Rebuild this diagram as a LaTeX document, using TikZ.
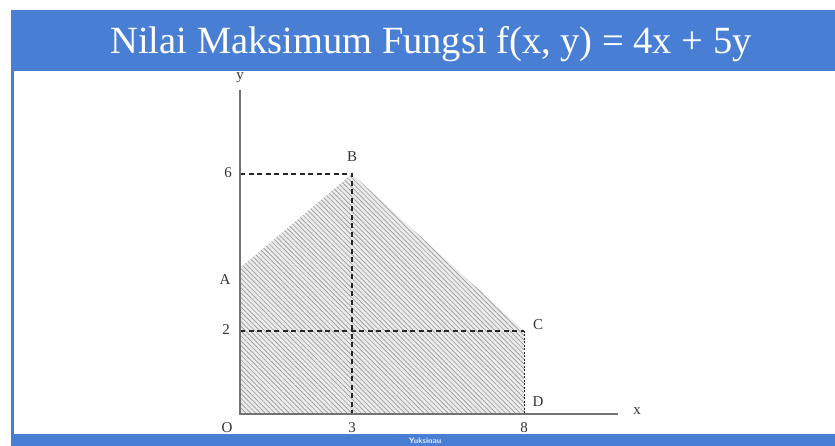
\documentclass[tikz,border=0pt]{standalone}
\usepackage{fontspec}
\setmainfont{Liberation Serif}
\usetikzlibrary{patterns.meta}
\definecolor{judulbiru}{RGB}{72,127,212}
\begin{document}
\begin{tikzpicture}[x=1pt,y=1pt,
		sumbu/.style={line width=1.6pt, black!55},
		bantu/.style={dash pattern=on 5pt off 3.5pt, line width=1.1pt, black!85},
		label/.style={font=\fontsize{15}{15}\selectfont, text=black!80, inner sep=1pt}]
		\useasboundingbox (0,0) rectangle (835,446);
		% daerah penyelesaian
		\coordinate (O) at (240,32);
		\coordinate (A) at (240,178);
		\coordinate (B) at (352,272);
		\coordinate (C) at (524,115);
		\coordinate (D) at (524,32);
		\fill[black!8] (O) -- (A) -- (B) -- (C) -- (D) -- cycle;
		\fill[pattern={Lines[angle=-45, distance=3.4pt, line width=0.65pt]}, pattern color=black!40] (O) -- (A) -- (B) -- (C) -- (D) -- cycle;
		% garis bantu
		\coordinate (y6) at (240,272);
		\coordinate (y2) at (240,115);
		\coordinate (x3) at (352,32);
		\draw[bantu] (y6) -- (B) -- (x3);
		\draw[bantu] (y2) -- (C);
		\draw[dash pattern=on 2pt off 1.5pt, line width=0.9pt, black!85] (C) -- (D) -- (O);
		% sumbu
		\coordinate (ujungx) at (618,32);
		\coordinate (ujungy) at (240,356);
		\draw[sumbu] (ujungy) -- (O) -- (ujungx);
		\node[label] (ly) at (240,368) {y};
		\node[label] (lx) at (637,35) {x};
		\node[label] (l6) at (228,273) {6};
		\node[label] (l2) at (226,116) {2};
		\node[label] (lA) at (225,166) {A};
		\node[label] (lB) at (352,289) {B};
		\node[label] (lC) at (538,121) {C};
		\node[label] (lD) at (538,44) {D};
		\node[label] (lO) at (227,18) {O};
		\node[label] (l3) at (352,18) {3};
		\node[label] (l8) at (524,18) {8};
		% bingkai
		\fill[judulbiru] (11,375) rectangle (835,436);
		\fill[judulbiru] (11,12) rectangle (14,375);
		\fill[judulbiru] (11,0) rectangle (835,12);
		\node[text=white, font=\fontsize{38.5}{38.5}\selectfont] (judul) at (431,402) {Nilai Maksimum Fungsi f(x, y) = 4x + 5y};
		\node[text=white!85!judulbiru, font=\sffamily\bfseries\fontsize{8}{8}\selectfont, anchor=north] (logo) at (425,12) {Yuksinau};
		\end{tikzpicture}
\end{document}
